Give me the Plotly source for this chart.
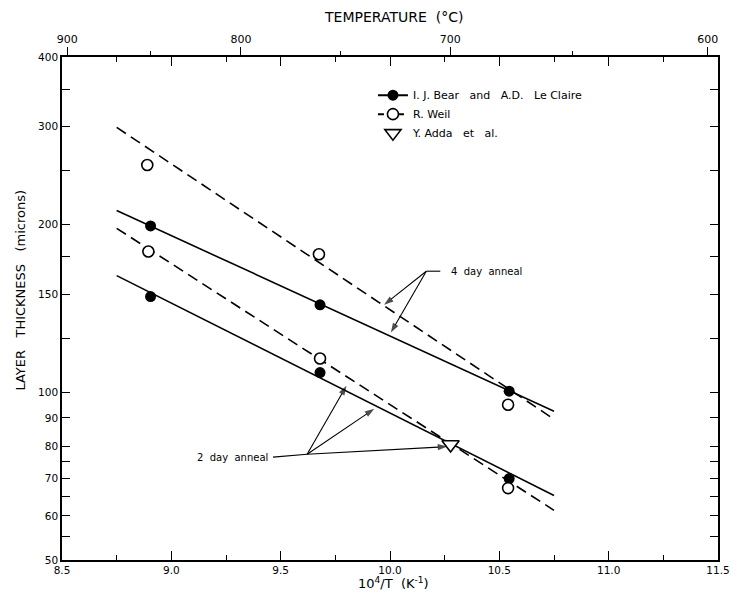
import math
import plotly.graph_objects as go

# ---------------- data ----------------
bear_x = [8.905, 8.905, 9.68, 9.68, 10.545, 10.545]
bear_y = [199, 148.6, 143.6, 108.5, 100.5, 70.0]

weil_x = [8.89, 8.895, 9.675, 9.68, 10.54, 10.54]
weil_y = [256, 179, 177, 115, 95, 67.3]

adda_x = [10.277]
adda_y = [80.6]

fit_x = [8.75, 10.75]
bear_4day_y = [212, 92.5]
bear_2day_y = [162, 65.3]
weil_4day_y = [299, 89.5]
weil_2day_y = [197, 61.4]

x_major = [8.5, 9.0, 9.5, 10.0, 10.5, 11.0, 11.5]
x_major_text = ["8.5", "9.0", "9.5", "10.0", "10.5", "11.0", "11.5"]

y_major = [50, 60, 70, 80, 90, 100, 150, 200, 300, 400]
y_major_text = ["50", "60", "70", "80", "90", "100", "150", "200", "300", "400"]
y_minor = [55, 65, 75, 125, 175, 250, 350]

temp_major = [900, 800, 700, 600]
temp_minor = [850, 750, 650]

# annotation pointer geometry (junction -> targets), in data units
anneal4_junction = (10.166, 165)
anneal4_targets = [(9.973, 143.6), (10.004, 128)]
anneal4_leader_end = (10.23, 165)
anneal2_junction = (9.621, 77.4)
anneal2_targets = [(9.801, 102.8), (9.928, 93.4), (10.262, 79.9)]
anneal2_leader_end = (9.465, 76.5)

FONT = "DejaVu Sans"
L = math.log10


def inv_t(tc):
    return 1e4 / (tc + 273.15)


fig = go.Figure()

line_style = dict(color="black", width=1.6)
dash_style = dict(color="black", width=1.6, dash="11px,6px")

fig.add_trace(go.Scatter(x=fit_x, y=bear_4day_y, mode="lines", line=line_style, showlegend=False))
fig.add_trace(go.Scatter(x=fit_x, y=bear_2day_y, mode="lines", line=line_style, showlegend=False))
fig.add_trace(go.Scatter(x=fit_x, y=weil_4day_y, mode="lines", line=dash_style, showlegend=False))
fig.add_trace(go.Scatter(x=fit_x, y=weil_2day_y, mode="lines", line=dash_style, showlegend=False))


def pointer(j, t, head=True):
    fig.add_trace(go.Scatter(
        x=[j[0], t[0]], y=[j[1], t[1]], mode="lines+markers" if head else "lines",
        line=dict(color="black", width=1.1),
        marker=dict(symbol=["circle", "arrow"], size=[0, 10], angleref="previous",
                    color="black", line=dict(width=0)),
        showlegend=False, hoverinfo="skip"))


for t in anneal4_targets:
    pointer(anneal4_junction, t)
pointer(anneal4_junction, anneal4_leader_end, head=False)
for t in anneal2_targets:
    pointer(anneal2_junction, t)
pointer(anneal2_junction, anneal2_leader_end, head=False)

fig.add_trace(go.Scatter(x=bear_x, y=bear_y, mode="markers",
                         marker=dict(symbol="circle", size=11, color="black"),
                         showlegend=False))
fig.add_trace(go.Scatter(x=weil_x, y=weil_y, mode="markers",
                         marker=dict(symbol="circle", size=11, color="white",
                                     line=dict(width=1.6, color="black")),
                         showlegend=False))
fig.add_trace(go.Scatter(x=adda_x, y=adda_y, mode="markers",
                         marker=dict(symbol="triangle-down", size=15, color="white",
                                     line=dict(width=1.6, color="black")),
                         showlegend=False))

# legend entries
fig.add_trace(go.Scatter(x=[None], y=[None], mode="lines+markers",
                         name="I.\u00a0J.\u00a0Bear\u00a0\u00a0\u00a0and\u00a0\u00a0\u00a0A.D.\u00a0\u00a0\u00a0Le\u00a0Claire",
                         line=dict(color="black", width=2),
                         marker=dict(symbol="circle", size=11, color="black")))
fig.add_trace(go.Scatter(x=[None], y=[None], mode="lines+markers", name="R.\u00a0Weil",
                         line=dict(color="black", width=2, dash="6px,4px"),
                         marker=dict(symbol="circle", size=11, color="white",
                                     line=dict(width=1.6, color="black"))))
fig.add_trace(go.Scatter(x=[None], y=[None], mode="markers", name="Y.\u00a0Adda\u00a0\u00a0\u00a0et\u00a0\u00a0\u00a0al.",
                         marker=dict(symbol="triangle-down", size=14, color="white",
                                     line=dict(width=1.6, color="black"))))

# ---------------- annotations ----------------
ann = []
ann.append(dict(x=10.27, y=L(165), xref="x", yref="y", text="4\u00a0\u00a0day\u00a0\u00a0anneal",
                showarrow=False, xanchor="left", yanchor="middle",
                font=dict(family=FONT, size=10, color="black")))
ann.append(dict(x=9.45, y=L(76.5), xref="x", yref="y", text="2\u00a0\u00a0day\u00a0\u00a0anneal",
                showarrow=False, xanchor="right", yanchor="middle",
                font=dict(family=FONT, size=10, color="black")))

# axis titles
ann.append(dict(x=-0.063, y=0.537, xref="paper", yref="paper",
                text="LAYER\u00a0\u00a0 THICKNESS\u00a0\u00a0 (microns)", textangle=-90,
                showarrow=False, xanchor="center", yanchor="middle",
                font=dict(family=FONT, size=13, color="black")))
ann.append(dict(x=0.506, y=-0.046, xref="paper", yref="paper",
                text="10<sup>4</sup>/T\u00a0 (K<sup>-1</sup>)",
                showarrow=False, xanchor="center", yanchor="middle",
                font=dict(family=FONT, size=13, color="black")))
ann.append(dict(x=0.506, y=1.08, xref="paper", yref="paper",
                text="TEMPERATURE\u00a0 (°C)",
                showarrow=False, xanchor="center", yanchor="middle",
                font=dict(family=FONT, size=14, color="black")))

fig.update_layout(
    width=741, height=605,
    margin=dict(l=62, r=11, t=57, b=45),
    paper_bgcolor="white", plot_bgcolor="white",
    font=dict(family=FONT, size=11, color="black"),
    annotations=ann,
    legend=dict(x=0.474, y=0.953, xanchor="left", yanchor="top",
                bgcolor="rgba(0,0,0,0)", font=dict(family=FONT, size=11, color="black"),
                itemwidth=30, tracegroupgap=0),
    xaxis=dict(range=[8.5, 11.5], tickvals=x_major, ticktext=x_major_text,
               ticks="inside", ticklen=9, tickwidth=1.2, tickcolor="black",
               showline=True, linecolor="black", linewidth=1.6, mirror="ticks",
               showgrid=False, zeroline=False,
               minor=dict(dtick=0.25, ticks="inside", ticklen=5, tickcolor="black", showgrid=False),
               tickfont=dict(family=FONT, size=10.5)),
    xaxis2=dict(overlaying="x", side="top", anchor="y", range=[8.5, 11.5],
                tickvals=[inv_t(t) for t in temp_major], ticktext=[str(t) for t in temp_major],
                ticks="outside", ticklen=9, tickwidth=1.2, tickcolor="black",
                showgrid=False, zeroline=False, showline=False,
                tickfont=dict(family=FONT, size=11)),
    xaxis3=dict(overlaying="x", side="top", anchor="y", range=[8.5, 11.5],
                tickvals=[inv_t(t) for t in temp_minor], ticks="outside", ticklen=5,
                tickwidth=1.2, tickcolor="black", showticklabels=False,
                showgrid=False, zeroline=False, showline=False),
    yaxis=dict(type="log", range=[L(50), L(400)], tickvals=y_major, ticktext=y_major_text,
               ticks="inside", ticklen=8, tickwidth=1.2, tickcolor="black",
               showline=True, linecolor="black", linewidth=1.6, mirror="ticks",
               showgrid=False, zeroline=False, tickfont=dict(family=FONT, size=10.5)),
    yaxis2=dict(type="log", overlaying="y", side="left", anchor="x", range=[L(50), L(400)],
                tickvals=y_minor, ticks="inside", ticklen=8, tickwidth=1.2, tickcolor="black",
                showline=True, linecolor="black", linewidth=1.6, mirror="ticks",
                showticklabels=False, showgrid=False, zeroline=False),
)

# dummy traces to activate overlay axes
fig.add_trace(go.Scatter(x=[None], y=[None], xaxis="x2", showlegend=False))
fig.add_trace(go.Scatter(x=[None], y=[None], xaxis="x3", showlegend=False))
fig.add_trace(go.Scatter(x=[None], y=[None], yaxis="y2", showlegend=False))

fig.write_html("out.html")
